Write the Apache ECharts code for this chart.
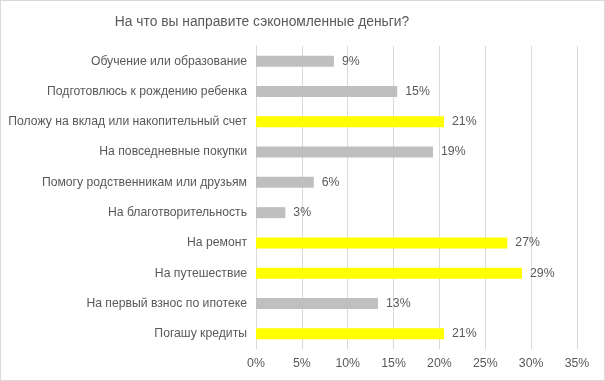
<!DOCTYPE html>
<html><head><meta charset="utf-8">
<script src="https://cdn.jsdelivr.net/npm/echarts@6/dist/echarts.min.js"></script>
<style>html,body{margin:0;padding:0;background:#fff}#c{width:605px;height:381px;box-sizing:border-box;border:1px solid #d9d9d9}</style>
</head><body><div id="c"></div>
<script>
const categories = [
  "Обучение или образование",
  "Подготовлюсь к рождению ребенка",
  "Положу на вклад или накопительный счет",
  "На повседневные покупки",
  "Помогу родственникам или друзьям",
  "На благотворительность",
  "На ремонт",
  "На путешествие",
  "На первый взнос по ипотеке",
  "Погашу кредиты"
];
const values = [8.5, 15.4, 20.5, 19.3, 6.3, 3.2, 27.4, 29.0, 13.3, 20.5];
const highlighted = [false, false, true, false, false, false, true, true, false, true];
const tickValues = [0, 5, 10, 15, 20, 25, 30, 35];
const titleText = "На что вы направите сэкономленные деньги?";

const font = "'Liberation Sans', Arial, sans-serif";
const chart = echarts.init(document.getElementById('c'));
chart.setOption({
  animation: false,
  graphic: [{
    type: 'text', x: 261, y: 21,
    style: {text: titleText, fontFamily: font, fontSize: 13.8, fill: '#595959', align: 'center', verticalAlign: 'middle'}
  }],
  grid: {left: 255, right: 27, top: 45, bottom: 31, containLabel: false, outerBoundsMode: 'none'},
  xAxis: {
    type: 'value', min: tickValues[0], max: tickValues[tickValues.length - 1], interval: 5,
    axisLine: {show: false}, axisTick: {show: false},
    splitLine: {lineStyle: {color: '#d9d9d9', width: 1}},
    axisLabel: {formatter: v => v + '%', color: '#595959', fontFamily: font, fontSize: 12.3, margin: 9}
  },
  yAxis: {
    type: 'category', data: categories, inverse: true,
    axisLine: {show: true, lineStyle: {color: '#d9d9d9'}}, axisTick: {show: false},
    axisLabel: {color: '#595959', fontFamily: font, fontSize: 12.2, margin: 9}
  },
  series: [{
    type: 'bar', barWidth: 11,
    data: values.map((v, i) => ({value: v, itemStyle: {color: highlighted[i] ? '#ffff00' : '#bfbfbf'}})),
    label: {show: true, position: 'right', distance: 8, formatter: p => Math.round(p.value) + '%',
      color: '#595959', fontFamily: font, fontSize: 12.3}
  }]
});
</script></body></html>
